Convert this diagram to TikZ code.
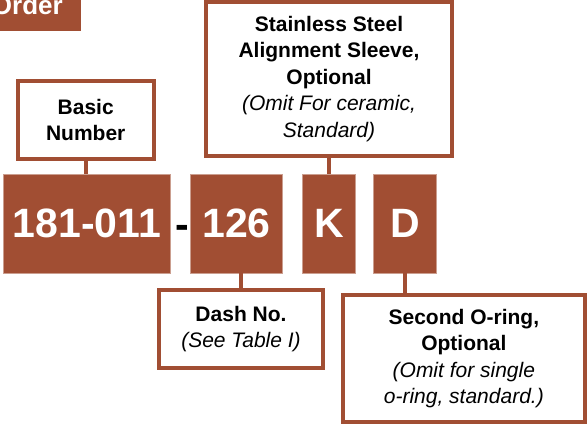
\documentclass[tikz,border=0pt]{standalone}
\usepackage{fontspec}
\setmainfont{Liberation Sans}
\usetikzlibrary{positioning}
\definecolor{rust}{RGB}{161,78,51}
\tikzset{
  code/.style={fill=rust,draw=rust!55!white,line width=0.6pt,text=white,
    font=\fontsize{41}{41}\selectfont\bfseries,minimum height=99pt,inner sep=0pt},
  callout/.style={draw=rust,line width=4pt,fill=white,align=center,inner sep=0pt,
    font=\fontsize{21}{26.5}\selectfont},
  link/.style={draw=rust,line width=4pt},
  heading/.style={fill=rust,text=white,font=\fontsize{26}{26}\selectfont\bfseries,
    inner xsep=18pt,inner ysep=15.7pt,text depth=0pt},
}
\begin{document}
\begin{tikzpicture}[x=1pt,y=-1pt]
\useasboundingbox (0,0) rectangle (588,424);
\node[heading,anchor=south east] (order) at (81,30.7) {Order};
% part number
\node[code,minimum width=167.4pt] (num) at (87,223.5) {181-011};
\node[font=\fontsize{41}{41}\selectfont\bfseries,anchor=base,inner sep=0pt] (sep) at (182,238.2) {-};
\node[code,minimum width=91.8pt] (dash) at (236.6,223.5) {126};
\node[code,minimum width=52.3pt] (k) at (328.85,223.5) {K};
\node[code,minimum width=63.4pt] (d) at (405,223.5) {D};
% callouts
\node[callout,minimum width=136.5pt,minimum height=78pt] (basic) at (85.75,120)
  {\textbf{Basic}\\\textbf{Number}};
\node[callout,minimum width=246pt,minimum height=154pt] (sleeve) at (329,79)
  {\textbf{Stainless Steel}\\\textbf{Alignment Sleeve,}\\\textbf{Optional}\\
   \textit{(Omit For ceramic,}\\\textit{Standard)}};
\node[callout,minimum width=163.4pt,minimum height=78.3pt] (dashno) at (241,328.85)
  {\textbf{Dash No.}\\\textit{(See Table I)}};
\node[callout,minimum width=242.3pt,minimum height=127.3pt] (oring) at (463.85,358.35)
  {\textbf{Second O-ring,}\\\textbf{Optional}\\\textit{(Omit for single}\\
   \textit{o-ring, standard.)}};
\draw[link] (basic.south) -- (basic.south |- num.north);
\draw[link] (k.north) -- (k.north |- sleeve.south);
\draw[link] (dashno.north) -- (dashno.north |- dash.south);
\draw[link] (d.south) -- (d.south |- oring.north);
\end{tikzpicture}
\end{document}
